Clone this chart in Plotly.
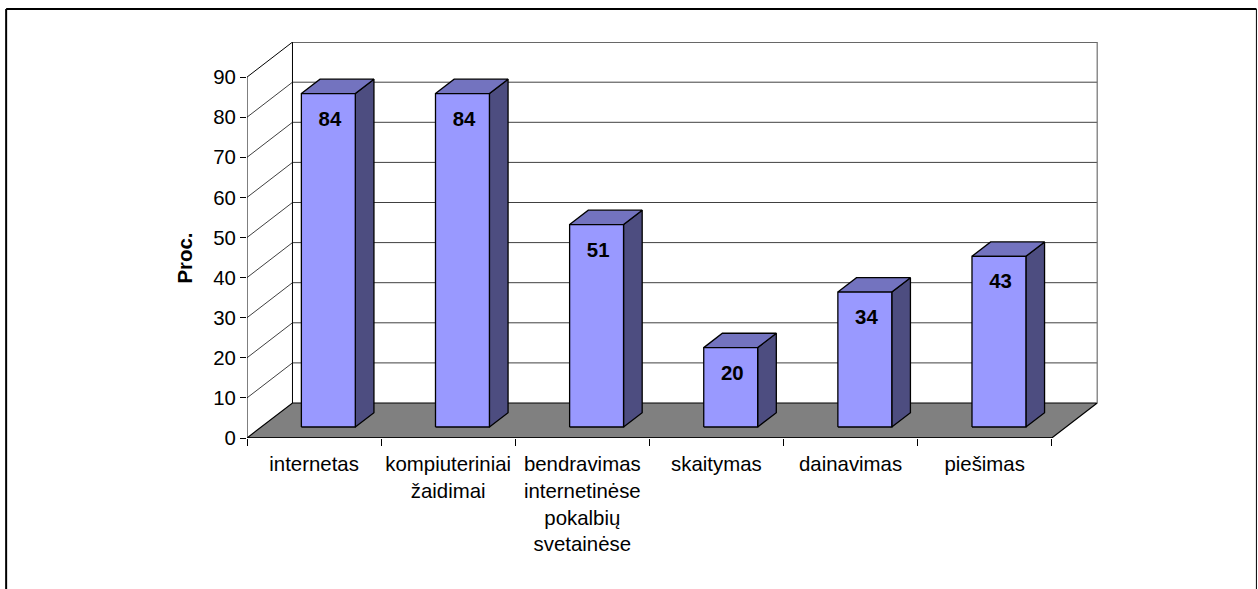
import plotly.graph_objects as go

categories = [
    "internetas",
    "kompiuteriniai<br>žaidimai",
    "bendravimas<br>internetinėse<br>pokalbių<br>svetainėse",
    "skaitymas",
    "dainavimas",
    "piešimas",
]
values = [84, 84, 51, 20, 34, 43]
y_ticks = [0, 10, 20, 30, 40, 50, 60, 70, 80, 90]
y_title = "Proc."

W, H = 1258, 589
L, T, R, B = 246.5, 42, 1098, 438
PX_X = 134.2
PX_Y = 4.01
DX = 45.5 / PX_X      # depth offset, category units
DY = 35 / PX_Y        # depth offset, value units
Z0, Z1 = 0.314, 0.724
BAR_W = 0.402
BAR_SCALE = 0.99
LABEL_DROP = 6.7      # value units from bar top to label centre
LABEL_SHIFT = 0.012
FONT = "Liberation Sans, Arial, sans-serif"
FS = 20.4
LINE = "#000000"
GRID = "#404040"
FRONT, TOP, SIDE = "#9999FF", "#7373BF", "#4D4D80"
n = len(values)
ymax = y_ticks[-1]


def proj(x, y, z):
    return x + z * DX, y + z * DY


def px_x(p):
    return (p - L) / (R - L)


def px_y(p):
    return (B - p) / (B - T)


fig = go.Figure()


def poly(points, fill=None, color=LINE, width=1.0):
    xs = [p[0] for p in points]
    ys = [p[1] for p in points]
    if fill:
        xs.append(xs[0])
        ys.append(ys[0])
    fig.add_trace(go.Scatter(
        x=xs, y=ys, mode="lines",
        line=dict(color=color, width=width),
        fill="toself" if fill else None, fillcolor=fill,
        hoverinfo="skip", showlegend=False, cliponaxis=False,
    ))


# floor
poly([proj(0, 0, 0), proj(0, 0, 1), proj(n, 0, 1), proj(n, 0, 0)], fill="#808080", width=1.2)
# gridlines on left and back walls
for v in y_ticks[1:]:
    poly([proj(0, v, 0), proj(0, v, 1), proj(n, v, 1)], color=GRID if v != ymax else LINE)
# wall edges and front axis
poly([proj(0, 0, 1), proj(0, ymax, 1)])
poly([proj(n, 0, 1), proj(n, ymax, 1)], color="#707070", width=1.2)
poly([proj(0, 0, 0), proj(0, ymax, 0)])
poly([proj(0, 0, 0), proj(n, 0, 0)], width=1.4)

# bars
label_x, label_y, label_text = [], [], []
for i, v in enumerate(values):
    x0 = i + 0.5 - BAR_W / 2
    x1 = i + 0.5 + BAR_W / 2
    h = v * BAR_SCALE
    poly([proj(x1, 0, Z0), proj(x1, 0, Z1), proj(x1, h, Z1), proj(x1, h, Z0)], fill=SIDE, width=1.3)
    poly([proj(x0, h, Z0), proj(x0, h, Z1), proj(x1, h, Z1), proj(x1, h, Z0)], fill=TOP, width=1.3)
    poly([proj(x0, 0, Z0), proj(x1, 0, Z0), proj(x1, h, Z0), proj(x0, h, Z0)], fill=FRONT, width=1.3)
    lx, ly = proj(i + 0.5 + LABEL_SHIFT, h - LABEL_DROP, Z0)
    label_x.append(lx)
    label_y.append(ly - Z0 * DY)
    label_text.append(str(v))

fig.add_trace(go.Scatter(
    x=label_x, y=[yv + Z0 * DY for yv in label_y], mode="text", text=label_text,
    textposition="middle center",
    textfont=dict(family=FONT, size=FS, color="#000000"),
    texttemplate="<b>%{text}</b>",
    hoverinfo="skip", showlegend=False, cliponaxis=False,
))

annotations = [dict(
    x=px_x(184), y=px_y(258), xref="paper", yref="paper", text="<b>" + y_title + "</b>",
    showarrow=False, textangle=-90, xanchor="center", yanchor="middle",
    font=dict(family=FONT, size=FS, color="#000000"),
)]

border = [
    dict(x0=5.5, y0=9, x1=5.5, y1=600, w=2),
    dict(x0=5.5, y0=9, x1=1256.5, y1=9, w=2),
    dict(x0=1256.5, y0=9, x1=1256.5, y1=600, w=1),
]
shapes = [dict(type="line", xref="paper", yref="paper",
               x0=px_x(b["x0"]), x1=px_x(b["x1"]), y0=px_y(b["y0"]), y1=px_y(b["y1"]),
               line=dict(color="#000000", width=b["w"])) for b in border]

fig.update_layout(
    width=W, height=H, autosize=False,
    margin=dict(l=L, r=W - R, t=T, b=H - B, pad=0),
    paper_bgcolor="#FFFFFF", plot_bgcolor="#FFFFFF",
    showlegend=False, annotations=annotations, shapes=shapes,
    xaxis=dict(
        range=[0, (R - L) / PX_X], showgrid=False, zeroline=False, showline=False,
        tickmode="array", tickvals=[i + 0.5 for i in range(n)],
        ticktext=categories,
        ticks="outside", ticklen=8, tickwidth=0, tickcolor="rgba(0,0,0,0)",
        tickangle=0,
        tickfont=dict(family=FONT, size=FS, color="#000000"),
        minor=dict(tickmode="array", tickvals=list(range(n + 1)), ticks="outside",
                   ticklen=7, tickwidth=1, tickcolor="#000000", showgrid=False),
    ),
    yaxis=dict(
        range=[0, (B - T) / PX_Y], showgrid=False, zeroline=False, showline=False,
        tickmode="array", tickvals=y_ticks, ticks="outside", ticklen=6,
        tickwidth=1, tickcolor="#000000",
        tickfont=dict(family=FONT, size=FS, color="#000000"),
    ),
)

fig.write_html("out.html", config={"displayModeBar": False},
               post_script="document.body.style.margin='0';document.documentElement.style.overflow='hidden';")
